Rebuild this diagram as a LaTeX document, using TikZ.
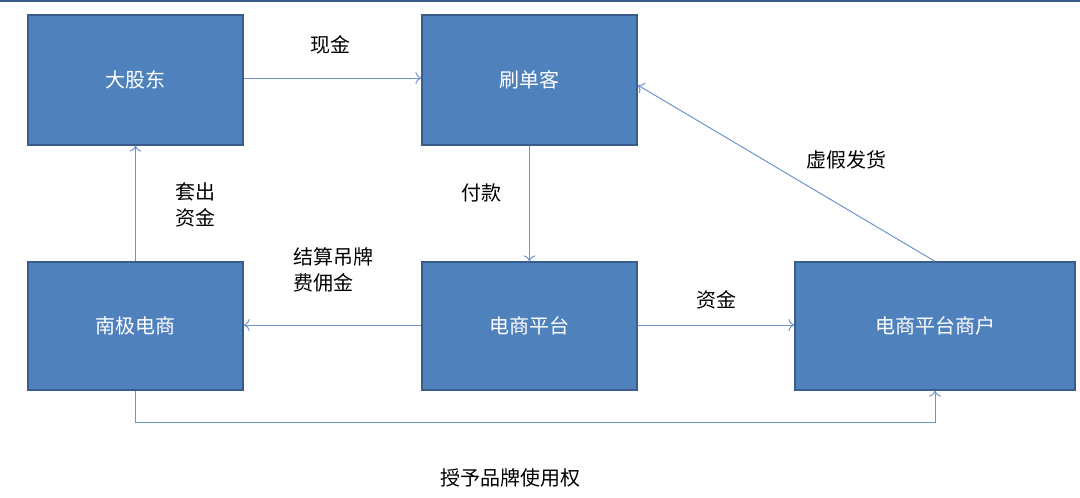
\documentclass[tikz,border=0pt]{standalone}
\usepackage{fontspec}
\newfontfamily\cjk{Noto Sans CJK SC}
\usetikzlibrary{arrows.meta}
\definecolor{boxfill}{HTML}{4F81BD}
\definecolor{boxline}{HTML}{385D8A}
\definecolor{arr}{HTML}{6E93C8}
\begin{document}
\begin{tikzpicture}[x=1pt,y=-1pt,
  bx/.style={draw=boxline,line width=1.2pt,fill=boxfill,text=white,font=\cjk\fontsize{20}{24}\selectfont,inner sep=0pt},
  con/.style={draw=arr,line width=1pt,-{To[length=6pt,width=12pt]}},
  lbl/.style={font=\cjk\fontsize{20}{26}\selectfont,text=black,align=left}]
\useasboundingbox (0,0) rectangle (1080,498);
\draw[boxline,line width=1.5pt] (0,1) -- (1080,1);
\node[bx,minimum width=215pt,minimum height=130pt] (gd) at (135.5,80) {大股东};
\node[bx,minimum width=215pt,minimum height=130pt] (sd) at (529.5,80) {刷单客};
\node[bx,minimum width=215pt,minimum height=128pt] (nj) at (135.5,326) {南极电商};
\node[bx,minimum width=215pt,minimum height=128pt] (pt) at (529.5,326) {电商平台};
\node[bx,minimum width=280pt,minimum height=128pt] (sh) at (935,326) {电商平台商户};
\draw[con] (gd.east |- 0,78) -- (sd.west |- 0,78);
\draw[con] (sd.south) -- (pt.north);
\draw[con] (nj.north) -- (gd.south);
\draw[con] (pt.west |- 0,325) -- (nj.east |- 0,325);
\draw[con] (pt.east |- 0,325) -- (sh.west |- 0,325);
\draw[con] (sh.north) -- (sd.east |- 0,85);
\coordinate (c1) at (135.5,422);
\coordinate (c2) at (935,422);
\draw[con] (nj.south) -- (c1) -- (c2) -- (sh.south);
\node[lbl] (l1) at (330,45) {现金};
\node[lbl] (l2) at (481,193) {付款};
\node[lbl] (l3) at (195,205) {套出\\资金};
\node[lbl] (l4) at (333,270) {结算吊牌\\费佣金};
\node[lbl] (l5) at (716,300) {资金};
\node[lbl] (l6) at (846,160) {虚假发货};
\node[lbl] (l7) at (510,478) {授予品牌使用权};
\end{tikzpicture}
\end{document}
